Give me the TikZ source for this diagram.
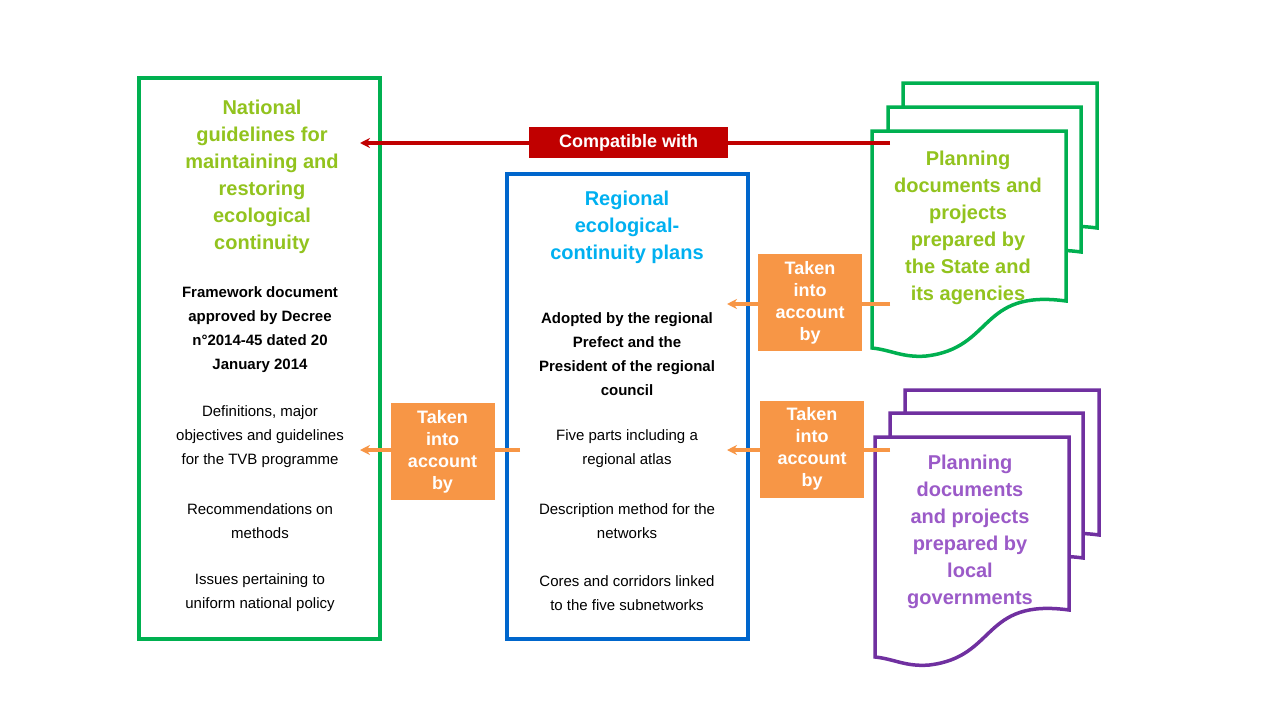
\documentclass[tikz,border=0pt]{standalone}
\usepackage{fontspec}
\setmainfont{Liberation Sans}
\definecolor{cgreen}{RGB}{0,176,80}
\definecolor{clime}{RGB}{146,195,30}
\definecolor{cblue}{RGB}{0,102,204}
\definecolor{ccyan}{RGB}{0,176,240}
\definecolor{cred}{RGB}{192,0,0}
\definecolor{corange}{RGB}{247,150,70}
\definecolor{cpurple}{RGB}{112,48,160}
\definecolor{clpurple}{RGB}{155,90,200}
\newcommand{\docshape}[5]{% color,x,y,w,h
  \draw[#1,line width=3.5pt,fill=white] (#2,#3) -- ++(#4,0) -- ++(0,#5-55)
   .. controls ++(-#4*0.45,-12) and ++(#4*0.35,-8) .. ++(-#4*0.72,55)
   .. controls ++(-#4*0.12,2) and ++(#4*0.1,2) .. ++(-#4*0.28,-8) -- cycle;}
\tikzset{
  ttl/.style={font=\bfseries\fontsize{20}{27}\selectfont,align=center},
  bdy/.style={font=\fontsize{15}{24}\selectfont,align=center},
  bbdy/.style={font=\bfseries\fontsize{15}{24}\selectfont,align=center},
  obox/.style={fill=corange,text=white,font=\bfseries\fontsize{18}{22}\selectfont,align=center,minimum width=104pt,minimum height=97pt,inner sep=0pt},
  oarr/.style={corange,line width=3.5pt,-{Stealth[length=10pt,width=10pt]}}
}
\usetikzlibrary{arrows.meta}
\begin{document}
\begin{tikzpicture}[x=1pt,y=-1pt]
\useasboundingbox[fill=white] (0,0) rectangle (1280,720);
\draw[cgreen,line width=4pt] (139,78) rectangle (380,639);
\node[ttl,text=clime] (nt) at (262,177) {National\\guidelines for\\maintaining and\\restoring\\ecological\\continuity};
\node[bbdy] (nb) at (260,330) {Framework document\\approved by Decree\\n°2014-45 dated 20\\January 2014};
\node[bdy] (n1) at (260,437) {Definitions, major\\objectives and guidelines\\for the TVB programme};
\node[bdy] (n2) at (260,521) {Recommendations on\\methods};
\node[bdy] (n3) at (260,593) {Issues pertaining to\\uniform national policy};
\draw[cblue,line width=4pt] (507,174) rectangle (748,639);
\node[ttl,text=ccyan] (rt) at (627,227) {Regional\\ecological-\\continuity plans};
\node[bbdy] (rb) at (627,354) {Adopted by the regional\\Prefect and the\\President of the regional\\council};
\node[bdy] (r1) at (627,449) {Five parts including a\\regional atlas};
\node[bdy] (r2) at (627,521) {Description method for the\\networks};
\node[bdy] (r3) at (627,593) {Cores and corridors linked\\to the five subnetworks};
\docshape{cgreen}{903}{83}{194}{200}
\docshape{cgreen}{888}{107}{193}{200}
\docshape{cgreen}{872}{131}{194}{225}
\node[ttl,text=clime] (gt) at (968,228) {Planning\\documents and\\projects\\prepared by\\the State and\\its agencies};
\docshape{cpurple}{905}{390}{194}{200}
\docshape{cpurple}{890}{413}{193}{200}
\docshape{cpurple}{875}{437}{194}{228}
\node[ttl,text=clpurple] (pt) at (970,532) {Planning\\documents\\and projects\\prepared by\\local\\governments};
\coordinate (c1) at (890,143); \coordinate (c1e) at (360,143);
\draw[cred,line width=3.5pt,-{Stealth[length=10pt,width=10pt]}] (c1) -- (c1e);
\node[fill=cred,text=white,font=\bfseries\fontsize{18}{20}\selectfont,minimum width=199pt,minimum height=31pt,inner sep=0pt] (cw) at (628.5,142.5) {Compatible with};
\coordinate (a1) at (890,304); \coordinate (a1e) at (727,304);
\coordinate (a2) at (520,450); \coordinate (a2e) at (360,450);
\coordinate (a3) at (890,450); \coordinate (a3e) at (727,450);
\draw[oarr] (a1) -- (a1e);
\draw[oarr] (a2) -- (a2e);
\draw[oarr] (a3) -- (a3e);
\node[obox] (o1) at (810,302.5) {Taken\\into\\account\\by};
\node[obox] (o2) at (442.5,451.5) {Taken\\into\\account\\by};
\node[obox] (o3) at (812,449) {Taken\\into\\account\\by};
\end{tikzpicture}
\end{document}
